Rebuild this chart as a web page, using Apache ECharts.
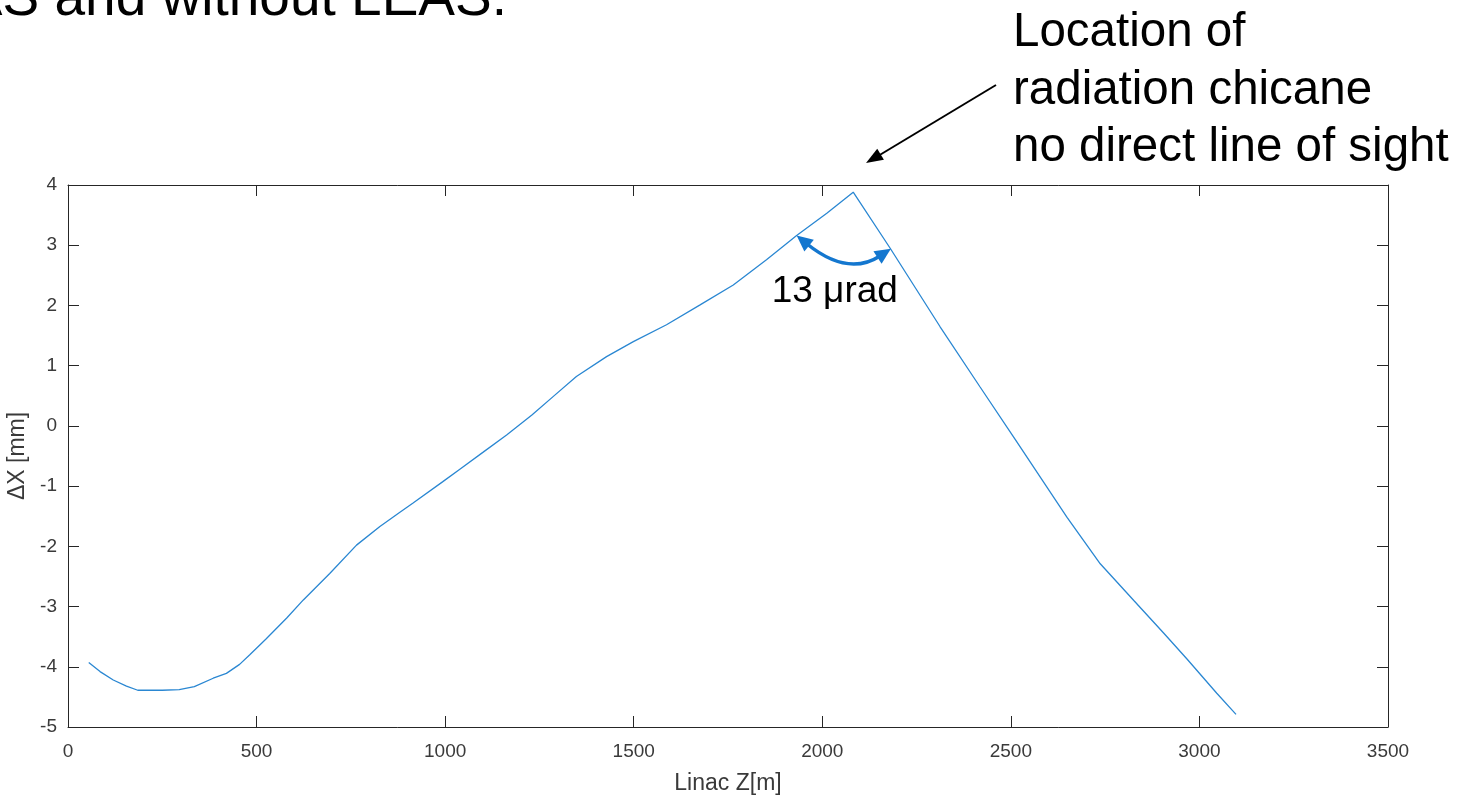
<!DOCTYPE html>
<html>
<head>
<meta charset="utf-8">
<title>Linac Z vs ΔX</title>
<script src="https://cdn.jsdelivr.net/npm/echarts@6/dist/echarts.min.js"></script>
<style>
  html, body { margin: 0; padding: 0; background: #ffffff; overflow: hidden; }
  #chart { width: 1462px; height: 796px; }
</style>
</head>
<body>
<div id="chart"></div>
<script>
// Linac position along the beam line [m]
const linacZ = [
  55, 85, 120, 155, 185, 190, 200, 250, 295, 335, 385, 420, 455, 482, 525,
  580, 624, 694, 765, 827, 881, 915, 993, 1039, 1100, 1163, 1230, 1287, 1348,
  1428, 1499, 1587, 1676, 1764, 1852, 1932, 2012, 2082, 2180, 2312, 2418,
  2511, 2649, 2737, 2826, 2905, 2967, 3046, 3097
];
// Horizontal offset ΔX [mm]
const deltaX = [
  -3.93, -4.08, -4.22, -4.32, -4.39, -4.36, -4.39, -4.39, -4.38, -4.33, -4.19,
  -4.11, -3.96, -3.80, -3.54, -3.19, -2.89, -2.45, -1.98, -1.67, -1.43, -1.28,
  -0.93, -0.72, -0.44, -0.15, 0.18, 0.49, 0.82, 1.15, 1.40, 1.68, 2.01, 2.34,
  2.76, 3.16, 3.53, 3.88, 2.95, 1.65, 0.65, -0.22, -1.52, -2.29, -2.90, -3.44,
  -3.87, -4.44, -4.79
];
// Tick values
const xTickValues = [0, 500, 1000, 1500, 2000, 2500, 3000, 3500];
const yTickValues = [-5, -4, -3, -2, -1, 0, 1, 2, 3, 4];
// End points of the angle marker around the chicane kink (Z [m], ΔX [mm])
const angleMarkZ = [1932, 2182];
const angleMarkDX = [3.16, 2.94];

const FONT = '"Liberation Sans", Arial, Helvetica, sans-serif';
const AXIS_COLOR = '#262626';
const LABEL_COLOR = '#3a3a3a';
const LINE_COLOR = '#2a87d2';
const MARK_BLUE = '#1477cf';

const chart = echarts.init(document.getElementById('chart'), null, { renderer: 'canvas' });

const xStep = xTickValues[1] - xTickValues[0];
const yStep = yTickValues[1] - yTickValues[0];
const plain = (v) => String(v);

function xAxisDef(pos, labels) {
  return {
    type: 'value', position: pos,
    min: xTickValues[0], max: xTickValues[xTickValues.length - 1], interval: xStep,
    axisLine: { show: true, onZero: false, lineStyle: { color: AXIS_COLOR, width: 1 } },
    axisTick: { show: true, inside: true, length: 11, lineStyle: { color: AXIS_COLOR, width: 1 } },
    axisLabel: { show: labels, margin: 15, color: LABEL_COLOR, fontSize: 19, fontFamily: FONT, formatter: plain },
    splitLine: { show: false },
    name: labels ? 'Linac Z[m]' : '', nameLocation: 'middle', nameGap: 45,
    nameTextStyle: { color: LABEL_COLOR, fontSize: 23, fontFamily: FONT }
  };
}
function yAxisDef(pos, labels) {
  return {
    type: 'value', position: pos,
    min: yTickValues[0], max: yTickValues[yTickValues.length - 1], interval: yStep,
    axisLine: { show: true, onZero: false, lineStyle: { color: AXIS_COLOR, width: 1 } },
    axisTick: { show: true, inside: true, length: 11, lineStyle: { color: AXIS_COLOR, width: 1 } },
    axisLabel: { show: labels, margin: 11, color: LABEL_COLOR, fontSize: 19, fontFamily: FONT, formatter: plain },
    splitLine: { show: false },
    name: labels ? 'ΔX [mm]' : '', nameLocation: 'middle', nameGap: 34, nameRotate: 90,
    nameTextStyle: { color: LABEL_COLOR, fontSize: 23, fontFamily: FONT }
  };
}

chart.setOption({
  animation: false,
  backgroundColor: '#ffffff',
  grid: { left: 68, right: 74, top: 185, bottom: 69, containLabel: false, outerBoundsMode: 'none' },
  xAxis: [xAxisDef('bottom', true), xAxisDef('top', false)],
  yAxis: [yAxisDef('left', true), yAxisDef('right', false)],
  series: [{
    type: 'line',
    xAxisIndex: 0, yAxisIndex: 0,
    data: linacZ.map((z, i) => [z, deltaX[i]]),
    showSymbol: false, symbol: 'none',
    smooth: false,
    lineStyle: { color: LINE_COLOR, width: 1.3 }
  }]
});

// Filled triangular arrow head with its tip at (tx, ty), pointing along (dx, dy)
function arrowHead(tx, ty, dx, dy, len, halfW, color) {
  const n = Math.hypot(dx, dy);
  const ux = dx / n, uy = dy / n;
  const bx = tx - ux * len, by = ty - uy * len;
  return {
    type: 'polygon',
    shape: { points: [[tx, ty], [bx - uy * halfW, by + ux * halfW], [bx + uy * halfW, by - ux * halfW]] },
    style: { fill: color },
    z: 100
  };
}

// Angle marker: curved double arrow between the two legs of the kink
const pA = chart.convertToPixel({ xAxisIndex: 0, yAxisIndex: 0 }, [angleMarkZ[0], angleMarkDX[0]]);
const pB = chart.convertToPixel({ xAxisIndex: 0, yAxisIndex: 0 }, [angleMarkZ[1], angleMarkDX[1]]);
const ctrl = [(pA[0] + pB[0]) / 2 + 4, Math.max(pA[1], pB[1]) + 28];
const headLen = 16, headHalf = 7.5;
// shorten the curve so it ends inside the arrow heads
function along(p, q, d) {
  const vx = q[0] - p[0], vy = q[1] - p[1], n = Math.hypot(vx, vy);
  return [p[0] + vx / n * d, p[1] + vy / n * d];
}
const cA = along(pA, ctrl, headLen - 3);
const cB = along(pB, ctrl, headLen - 3);

// Callout arrow towards the chicane location
const calloutTail = [996, 85];
const calloutTip = [866, 163];

chart.setOption({
  graphic: [
    // Slide title (runs off the top/left edge)
    {
      type: 'text', x: 507, y: 0, z: 100,
      style: { text: 'with LEAS and without LEAS.', font: '55px ' + FONT, fill: '#000000',
               align: 'right', verticalAlign: 'middle' }
    },
    // Callout text
    {
      type: 'text', x: 1013, y: 33, z: 100,
      style: { text: 'Location of', font: '47.5px ' + FONT, fill: '#000000', align: 'left', verticalAlign: 'middle' }
    },
    {
      type: 'text', x: 1013, y: 91, z: 100,
      style: { text: 'radiation chicane', font: '47.5px ' + FONT, fill: '#000000', align: 'left', verticalAlign: 'middle' }
    },
    {
      type: 'text', x: 1013, y: 148, z: 100,
      style: { text: 'no direct line of sight', font: '47.5px ' + FONT, fill: '#000000', align: 'left', verticalAlign: 'middle' }
    },
    {
      type: 'line', z: 100,
      shape: { x1: calloutTail[0], y1: calloutTail[1],
               x2: calloutTip[0] + 12, y2: calloutTip[1] - 7 },
      style: { stroke: '#000000', lineWidth: 2 }
    },
    arrowHead(calloutTip[0], calloutTip[1], calloutTip[0] - calloutTail[0], calloutTip[1] - calloutTail[1], 17, 6.5, '#000000'),
    // Angle marker
    {
      type: 'bezierCurve', z: 100,
      shape: { x1: cA[0], y1: cA[1], x2: cB[0], y2: cB[1], cpx1: ctrl[0], cpy1: ctrl[1] },
      style: { stroke: MARK_BLUE, lineWidth: 3.5, fill: null }
    },
    arrowHead(pA[0], pA[1], pA[0] - ctrl[0], pA[1] - ctrl[1], headLen, headHalf, MARK_BLUE),
    arrowHead(pB[0], pB[1], pB[0] - ctrl[0], pB[1] - ctrl[1], headLen, headHalf, MARK_BLUE),
    {
      type: 'text', x: (pA[0] + pB[0]) / 2 - 9, y: 292, z: 100,
      style: { text: '13 μrad', font: '37px ' + FONT, fill: '#000000', align: 'center', verticalAlign: 'middle' }
    }
  ]
});
</script>
</body>
</html>
